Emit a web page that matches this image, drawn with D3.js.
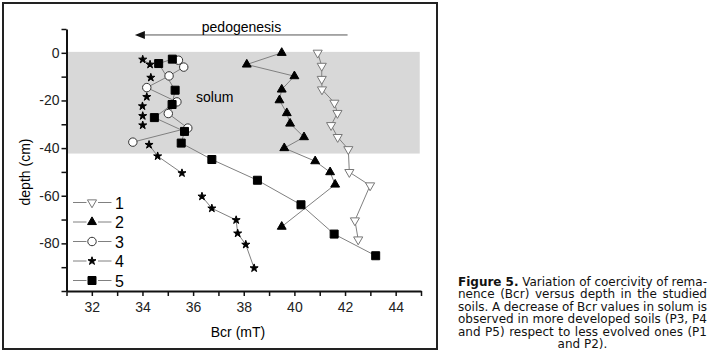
<!DOCTYPE html>
<html>
<head>
<meta charset="utf-8">
<script src="https://cdn.jsdelivr.net/npm/d3@7"></script>
<style>
body { margin: 0; background: #fff; }
</style>
</head>
<body>
<script>
// Bcr (mT) versus depth (cm), one pair of arrays per soil profile
var depth1 = [0, -5.5, -11, -15.4, -21, -25.3, -30.4, -35.4, -40.5, -50.1, -55.7, -70.4, -78.4];
var bcr1   = [40.92, 41.08, 41.08, 41.09, 41.58, 41.70, 41.45, 41.71, 42.13, 42.17, 42.99, 42.39, 42.52];

var depth2 = [0, -4.9, -9.8, -15.4, -19.9, -25.3, -29.7, -35.4, -40, -45.5, -50.1, -55.3, -73];
var bcr2   = [39.5, 38.12, 40.0, 39.5, 39.41, 39.70, 39.83, 40.38, 39.60, 40.82, 41.41, 41.61, 39.50];

var depth3 = [-3.1, -6.0, -9.7, -14.6, -20.6, -25.5, -31.6, -37.5];
var bcr3   = [35.42, 35.63, 35.05, 34.17, 35.36, 35.02, 35.79, 33.62];

// null = break in the line
var depth4 = [-2.8, -4.9, null, -10.4, null, -18.5, null, -22.4, null, -26.5, null, -30.4, null, -38.6, -43.4, -50.5, null, -60.3, -65.3, -70.2, -75.8, -80.5, -90.4];
var bcr4   = [34.01, 34.30, null, 34.33, null, 34.17, null, 34.0, null, 34.01, null, 34.01, null, 34.26, 34.6, 35.56, null, 36.35, 36.74, 37.70, 37.76, 38.08, 38.41];

var depth5 = [-2.65, -4.5, -15.7, -21.7, -27.2, -33, -37.9, -44.8, -53.5, -63.8, -76.1, -85.2];
var bcr5   = [35.18, 34.64, 35.29, 35.17, 34.47, 35.66, 35.53, 36.74, 38.54, 40.26, 41.57, 43.21];

var seriesNames = ["1", "2", "3", "4", "5"];
var xTicks = d3.range(31, 46);
var yTicks = d3.range(-100, 11, 10);
var yLabelled = [0, -20, -40, -60, -80];
var solum = [0.4, -42.3];
var arrowBcr = [42.1, 33.7], arrowDepth = 7.5;

var caption = [
  "Figure 5. Variation of coercivity of rema-",
  "nence (Bcr) versus depth in the studied",
  "soils. A decrease of Bcr values in solum is",
  "observed in more developed soils (P3, P4",
  "and P5) respect to less evolved ones (P1",
  "and P2)."
];

var width = 724, height = 360;
var font = "Arial, 'Liberation Sans', sans-serif";

var svg = d3.select("body").append("svg")
    .attr("width", width)
    .attr("height", height);

var x = d3.scaleLinear().domain([31, 45]).range([66.5, 421]);
var y = d3.scaleLinear().domain([-100, 10]).range([291, 29]);

// solum band
svg.append("rect")
    .attr("x", x(31)).attr("y", y(solum[0]))
    .attr("width", x(44.95) - x(31))
    .attr("height", y(solum[1]) - y(solum[0]))
    .attr("fill", "#d8d8d8");

svg.append("text")
    .attr("x", 196).attr("y", 102)
    .style("font", "14px " + font)
    .text("solum");

// pedogenesis arrow
svg.append("line")
    .attr("x1", x(arrowBcr[0])).attr("x2", x(arrowBcr[1]) + 10)
    .attr("y1", y(arrowDepth)).attr("y2", y(arrowDepth))
    .attr("stroke", "#555").attr("stroke-width", 1);
svg.append("path")
    .attr("d", "M" + x(arrowBcr[1]) + "," + y(arrowDepth) + " l10,-4 l0,8 z")
    .attr("fill", "#111");

svg.append("text")
    .attr("x", 241.5).attr("y", 32)
    .attr("text-anchor", "middle")
    .style("font", "14px " + font)
    .text("pedogenesis");

// axes
var xAxis = d3.axisBottom(x)
    .tickValues(xTicks)
    .tickFormat(function(d) { return d % 2 === 0 ? String(d) : ""; })
    .tickSize(5).tickSizeOuter(0).tickPadding(6);

var yAxis = d3.axisLeft(y)
    .tickValues(yTicks)
    .tickFormat(function(d) { return yLabelled.indexOf(d) >= 0 ? String(d) : ""; })
    .tickSize(5).tickSizeOuter(0).tickPadding(2);

var gx = svg.append("g")
    .attr("transform", "translate(0," + y(-100) + ")")
    .call(xAxis);
var gy = svg.append("g")
    .attr("transform", "translate(" + x(31) + ",0)")
    .call(yAxis);

[gx, gy].forEach(function(g) {
  g.select(".domain").attr("stroke", "#111").attr("stroke-width", 2);
  g.selectAll(".tick line").attr("stroke", "#111").attr("stroke-width", 1.5);
  g.selectAll("text").style("font", "14px " + font).attr("fill", "#222");
});

svg.append("text")
    .attr("x", 238).attr("y", 337)
    .attr("text-anchor", "middle")
    .style("font", "14px " + font)
    .text("Bcr (mT)");

svg.append("text")
    .attr("transform", "translate(30,172) rotate(-90)")
    .attr("text-anchor", "middle")
    .style("font", "14px " + font)
    .text("depth (cm)");

// series
var series = [
  {name: seriesNames[0], bcr: bcr1, depth: depth1, sym: d3.symbolTriangle, size: 36, rot: 180, fill: "#fff", stroke: "#777"},
  {name: seriesNames[1], bcr: bcr2, depth: depth2, sym: d3.symbolTriangle, size: 34, rot: 0, fill: "#000", stroke: "#000"},
  {name: seriesNames[2], bcr: bcr3, depth: depth3, sym: d3.symbolCircle, size: 56, rot: 0, fill: "#fff", stroke: "#333"},
  {name: seriesNames[3], bcr: bcr4, depth: depth4, sym: d3.symbolStar, size: 20, rot: 0, fill: "#000", stroke: "#000"},
  {name: seriesNames[4], bcr: bcr5, depth: depth5, sym: d3.symbolSquare, size: 64, rot: 0, fill: "#000", stroke: "#000"}
];

var line = d3.line()
    .defined(function(d) { return d[0] !== null; })
    .x(function(d) { return x(d[0]); })
    .y(function(d) { return y(d[1]); });

series.forEach(function(s) {
  var pts = s.bcr.map(function(v, i) { return [v, s.depth[i]]; });
  svg.append("path")
      .datum(pts)
      .attr("d", line)
      .attr("fill", "none")
      .attr("stroke", "#808080")
      .attr("stroke-width", 1);
});

series.forEach(function(s) {
  var pts = s.bcr.map(function(v, i) { return [v, s.depth[i]]; })
      .filter(function(d) { return d[0] !== null; });
  svg.append("g").selectAll("path")
      .data(pts)
      .enter().append("path")
      .attr("d", d3.symbol().type(s.sym).size(s.size))
      .attr("transform", function(d) {
        return "translate(" + x(d[0]) + "," + y(d[1]) + ") rotate(" + s.rot + ")";
      })
      .attr("fill", s.fill)
      .attr("stroke", s.stroke)
      .attr("stroke-width", 1);
});

// legend
var legend = svg.append("g").selectAll("g")
    .data(series)
    .enter().append("g")
    .attr("transform", function(d, i) { return "translate(0," + (202.5 + i * 19.5) + ")"; });

legend.append("line")
    .attr("x1", 73).attr("x2", 86.5)
    .attr("stroke", "#808080");
legend.append("line")
    .attr("x1", 98).attr("x2", 111.5)
    .attr("stroke", "#808080");
legend.append("path")
    .attr("d", function(d) { return d3.symbol().type(d.sym).size(d.size)(); })
    .attr("transform", function(d) { return "translate(92,0) rotate(" + d.rot + ")"; })
    .attr("fill", function(d) { return d.fill; })
    .attr("stroke", function(d) { return d.stroke; });
legend.append("text")
    .attr("x", 115).attr("y", 6)
    .style("font", "16px " + font)
    .text(function(d) { return d.name; });

// frame
svg.append("rect")
    .attr("x", 3).attr("y", 3)
    .attr("width", 434).attr("height", 346)
    .attr("fill", "none")
    .attr("stroke", "#222")
    .attr("stroke-width", 2);

// caption, justified lines with last line centred
var capLeft = 458, capRight = 707, capTop = 285.5, capStep = 12.5;
caption.forEach(function(txt, i) {
  var t = svg.append("text")
      .attr("y", capTop + i * capStep)
      .style("font", "12px 'DejaVu Sans', Verdana, sans-serif")
      .attr("fill", "#111");
  if (i === 0) {
    t.append("tspan").attr("font-weight", "bold").text("Figure 5.");
    t.append("tspan").text(txt.slice(9));
  } else {
    t.text(txt);
  }
  if (i === caption.length - 1) {
    t.attr("x", (capLeft + capRight) / 2).attr("text-anchor", "middle");
  } else {
    t.attr("x", capLeft);
    var natural = t.node().getComputedTextLength();
    var spaces = txt.split(" ").length - 1;
    t.style("word-spacing", ((capRight - capLeft - natural) / spaces) + "px");
  }
});
</script>
</body>
</html>
